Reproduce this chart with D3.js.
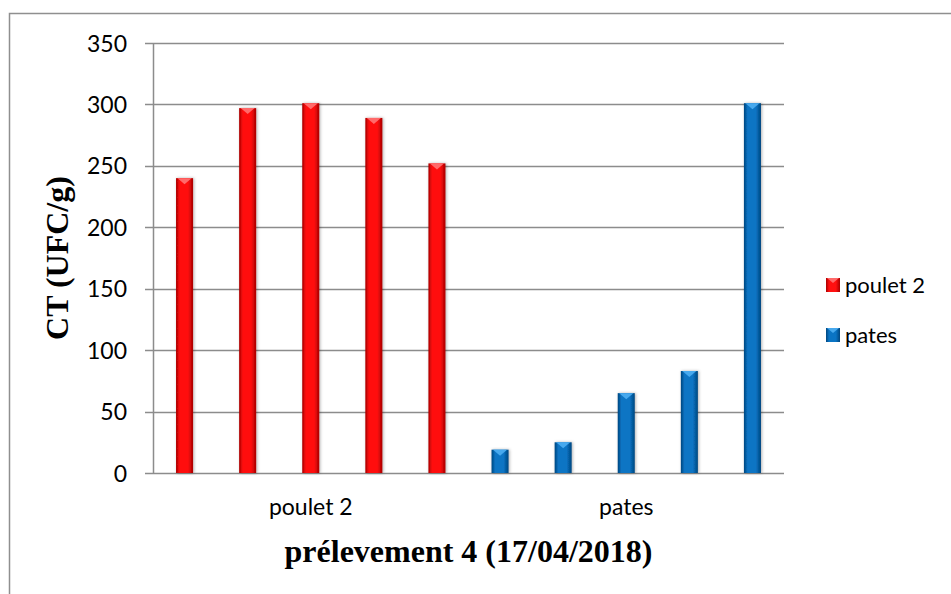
<!DOCTYPE html>
<html>
<head>
<meta charset="utf-8">
<script src="https://cdn.jsdelivr.net/npm/d3@7"></script>
<style>
  html, body { margin: 0; padding: 0; background: #fff; }
  svg { display: block; }
</style>
</head>
<body>
<svg id="chart" width="951" height="594"></svg>
<script>
// Coliformes totaux, prélevement 4
const categories = ["poulet 2", "pates"];
const poulet2Values = [240, 297, 301, 289, 252];
const patesValues = [19, 25, 65, 83, 301];
const yTicks = [0, 50, 100, 150, 200, 250, 300, 350];
const seriesNames = ["poulet 2", "pates"];
const yTitle = "CT (UFC/g)";
const xTitle = "prélevement 4 (17/04/2018)";

const svg = d3.select("#chart");
const plot = { left: 153, right: 784, top: 43, bottom: 473 };
const labelFont = "Lato, 'Noto Sans', sans-serif";
const titleFont = "'Liberation Serif', 'Times New Roman', serif";
const gridColor = "#8c8c8c";

const palette = {
  "poulet 2": { edge: "#a80000", mid: "#ff1010", cap: "#ff6a6a" },
  "pates":    { edge: "#00467f", mid: "#0a74c4", cap: "#47a9ee" }
};

const defs = svg.append("defs");
Object.entries(palette).forEach(([name, c], i) => {
  const g = defs.append("linearGradient")
    .attr("id", "grad" + i).attr("x1", "0%").attr("x2", "100%").attr("y1", "0%").attr("y2", "0%");
  g.append("stop").attr("offset", "0%").attr("stop-color", c.edge);
  g.append("stop").attr("offset", "22%").attr("stop-color", c.mid);
  g.append("stop").attr("offset", "70%").attr("stop-color", c.mid);
  g.append("stop").attr("offset", "100%").attr("stop-color", c.edge);
});
const shadow = defs.append("filter").attr("id", "shadow")
  .attr("x", "-50%").attr("y", "-10%").attr("width", "200%").attr("height", "120%");
shadow.append("feDropShadow").attr("dx", 1).attr("dy", 0).attr("stdDeviation", 1.6)
  .attr("flood-color", "#000").attr("flood-opacity", 0.3);

// outer frame (left and top edges visible)
svg.append("rect")
  .attr("x", 9.5).attr("y", 13.5).attr("width", 1000).attr("height", 700)
  .attr("fill", "none").attr("stroke", "#8f8f8f").attr("stroke-width", 1.5);

// scales
const y = d3.scaleLinear().domain([0, 350]).range([plot.bottom, plot.top]);
const xCat = d3.scaleBand().domain(categories).range([plot.left, plot.right]).padding(0);
const xBar = d3.scaleBand().domain(d3.range(5)).range([0, xCat.bandwidth()])
  .paddingInner(0.73).paddingOuter(0.365);

// gridlines
svg.append("g").selectAll("line").data(yTicks).join("line")
  .attr("x1", plot.left - 8).attr("x2", plot.right)
  .attr("y1", d => Math.round(y(d)) + 0.5).attr("y2", d => Math.round(y(d)) + 0.5)
  .attr("stroke", gridColor).attr("stroke-width", 1.5);

// y axis
const yAxis = d3.axisLeft(y).tickValues(yTicks).tickSize(0).tickPadding(26);
const gy = svg.append("g").attr("transform", `translate(${plot.left},0)`).call(yAxis);
gy.select(".domain").attr("stroke", gridColor).attr("stroke-width", 1.5);
gy.selectAll("text").attr("font-family", labelFont).attr("font-size", 23).attr("fill", "#000")
  .attr("dy", "0.35em");

// x category labels
const xAxis = d3.axisBottom(xCat).tickSize(0).tickPadding(26);
const gx = svg.append("g").attr("transform", `translate(0,${plot.bottom})`).call(xAxis);
gx.select(".domain").remove();
gx.selectAll("text").attr("font-family", labelFont).attr("font-size", 23).attr("fill", "#000");

// bars
const rows = [];
categories.forEach((cat, ci) => {
  const vals = ci === 0 ? poulet2Values : patesValues;
  vals.forEach((v, i) => rows.push({ cat, i, v, series: ci }));
});
const bars = svg.append("g").selectAll("g").data(rows).join("g")
  .attr("transform", d => `translate(${xCat(d.cat) + xBar(d.i)},0)`);
bars.append("rect")
  .attr("x", 0).attr("width", xBar.bandwidth())
  .attr("y", d => y(d.v)).attr("height", d => y(0) - y(d.v))
  .attr("fill", d => `url(#grad${d.series})`).attr("filter", "url(#shadow)");
bars.append("path")
  .attr("d", d => {
    const w = xBar.bandwidth(), t = y(d.v);
    return `M1.5,${t}L${w - 1.5},${t}L${w / 2},${t + 6}Z`;
  })
  .attr("fill", d => palette[seriesNames[d.series]].cap);

// legend
const legend = svg.append("g");
seriesNames.forEach((name, i) => {
  const gy0 = 285 + i * 50;
  const g = legend.append("g").attr("transform", `translate(826,${gy0 - 7})`);
  g.append("rect").attr("width", 14).attr("height", 14).attr("fill", `url(#grad${i})`);
  g.append("path").attr("d", "M1,0L13,0L7,5Z").attr("fill", palette[name].cap);
  legend.append("text").attr("x", 845).attr("y", gy0).attr("dy", "0.35em")
    .attr("font-family", labelFont).attr("font-size", 22).attr("fill", "#000").text(name);
});

// axis titles
svg.append("text")
  .attr("transform", `translate(68,${(plot.top + plot.bottom) / 2}) rotate(-90)`)
  .attr("text-anchor", "middle")
  .attr("font-family", titleFont).attr("font-weight", "bold").attr("font-size", 32)
  .attr("fill", "#000").text(yTitle);
svg.append("text")
  .attr("x", (plot.left + plot.right) / 2).attr("y", 562).attr("text-anchor", "middle")
  .attr("font-family", titleFont).attr("font-weight", "bold").attr("font-size", 32)
  .attr("fill", "#000").text(xTitle);
</script>
</body>
</html>
